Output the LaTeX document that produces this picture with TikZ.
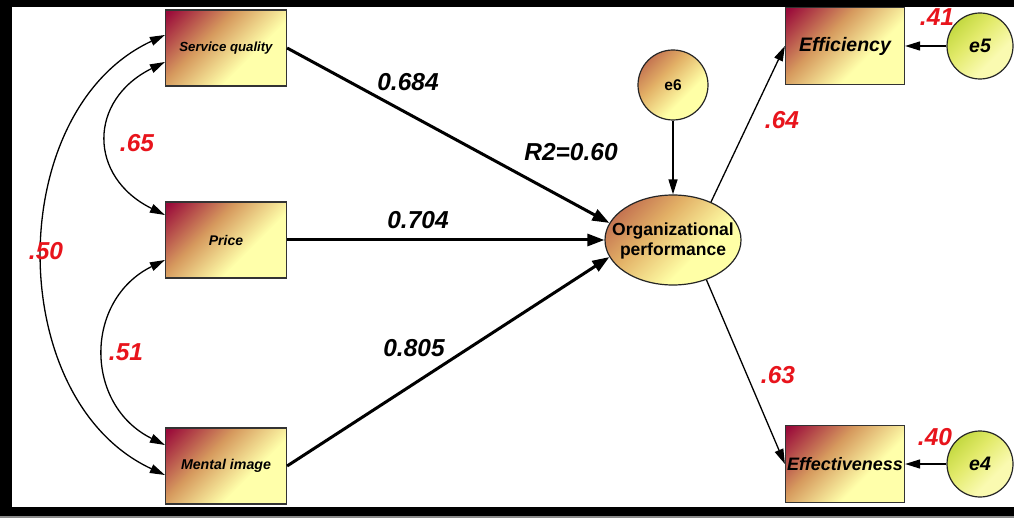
\documentclass[tikz,border=0pt]{standalone}
\usepackage{fontspec}
\setmainfont{Liberation Sans}
\usetikzlibrary{arrows.meta,shapes.geometric}
\definecolor{bxA}{HTML}{9A0A3A}
\definecolor{bxB}{HTML}{D69A5E}
\definecolor{bxC}{HTML}{FFFFAA}
\definecolor{ciA}{HTML}{B85A48}
\definecolor{ciB}{HTML}{E2B066}
\definecolor{ciC}{HTML}{FFFFA6}
\definecolor{grA}{HTML}{BFD63A}
\definecolor{grB}{HTML}{E2EA6A}
\definecolor{grC}{HTML}{FAFAB0}
\definecolor{numred}{HTML}{E8141C}
\pgfdeclarehorizontalshading{boxsh}{100bp}{color(0bp)=(bxA); color(16bp)=(bxA); color(40bp)=(bxB); color(62bp)=(bxC); color(100bp)=(bxC)}
\pgfdeclarehorizontalshading{circsh}{100bp}{color(0bp)=(ciA); color(18bp)=(ciA); color(40bp)=(ciB); color(62bp)=(ciC); color(100bp)=(ciC)}
\pgfdeclarehorizontalshading{greensh}{100bp}{color(0bp)=(grA); color(22bp)=(grA); color(42bp)=(grB); color(64bp)=(grC); color(100bp)=(grC)}
\tikzset{
  obsbox/.style={draw=black!80, line width=1.2pt, shading=boxsh, shading angle=-45, minimum width=121pt, minimum height=76pt, inner sep=0pt, font=\bfseries\itshape},
  latent/.style={draw=black!85, line width=1.2pt, shading=circsh, shading angle=-45, ellipse, minimum width=136pt, minimum height=90pt, inner sep=0pt},
  latenttext/.style={inner sep=0pt, align=center, font=\fontsize{17.5pt}{20pt}\selectfont\bfseries},
  errc/.style={draw=black!85, line width=1.2pt, circle, minimum size=#1, inner sep=0pt},
  errbrown/.style={errc=70pt, shading=circsh, shading angle=-45, font=\fontsize{15.5pt}{17pt}\selectfont\bfseries},
  errgreen/.style={errc=66pt, shading=greensh, shading angle=-45, font=\fontsize{19.5pt}{21pt}\selectfont\bfseries\itshape},
  thickarr/.style={line width=3pt, -{Triangle[length=17pt,width=12pt]}},
  thinarr/.style={line width=1.3pt, -{Triangle[length=15pt,width=9pt]}},
  corr/.style={line width=1.3pt, {Triangle[length=15pt,width=9pt]}-{Triangle[length=15pt,width=9pt]}},
  coef/.style={font=\fontsize{24.5pt}{26pt}\selectfont\bfseries\itshape, text=black, inner sep=0pt},
  rcoef/.style={coef, text=numred}
}
\begin{document}
\begin{tikzpicture}[x=1pt,y=-1pt]
\useasboundingbox (0,0) rectangle (1014,518);
\fill[black] (0,0) rectangle (1014,518);
\fill[black!45] (0,516) rectangle (1014,518);
\fill[white] (12,7) rectangle (1014,507);

% observed variables
\node[obsbox, font=\fontsize{13.2pt}{15pt}\selectfont\bfseries\itshape] (sq) at (226,48) {Service quality};
\node[obsbox, font=\fontsize{14pt}{16pt}\selectfont\bfseries\itshape] (pr) at (226,240) {Price};
\node[obsbox, font=\fontsize{14.2pt}{16pt}\selectfont\bfseries\itshape] (mi) at (226,466) {Mental image};
\node[obsbox, minimum width=119pt, minimum height=77pt, font=\fontsize{19.5pt}{21pt}\selectfont\bfseries\itshape] (eff) at (845,46) {Efficiency};
\node[obsbox, minimum width=119pt, minimum height=77pt, font=\fontsize{18pt}{20pt}\selectfont\bfseries\itshape] (efv) at (845,464) {Effectiveness};

% latent and errors
\node[latent] (op) at (673,240) {};
\node[latenttext] (optext) at ([yshift=-1pt]op.center) {Organizational\\performance};
\node[errbrown] (e6) at (673,85) {e6};
\node[errgreen] (e5) at (980,46) {e5};
\node[errgreen] (e4) at (980,464) {e4};

% paths
\draw[thickarr] (sq.east) -- (op.165);
\draw[thickarr] (pr.east) -- (op.west);
\draw[thickarr] (mi.east) -- (op.195);
\draw[thinarr] (e6.south) -- (op.north);
\draw[thinarr] (op.45) -- (eff.west);
\draw[thinarr] (op.-50) -- (efv.west);
\draw[thinarr] (e5.west) -- (eff.east);
\draw[thinarr] (e4.west) -- (efv.east);

% correlations
\coordinate (sqa) at ([yshift=13pt]sq.west);
\coordinate (sqb) at ([yshift=-14pt]sq.west);
\coordinate (pra) at ([yshift=25pt]pr.west);
\coordinate (prb) at ([yshift=-20pt]pr.west);
\coordinate (mia) at ([yshift=21pt]mi.west);
\coordinate (mib) at ([yshift=-9pt]mi.west);
\draw[corr] (sqb) .. controls +(-77,38) and +(-77,-38) .. (pra);
\draw[corr] (prb) .. controls +(-81,40) and +(-81,-40) .. (mia);
\draw[corr] (sqa) .. controls +(-162,75) and +(-162,-75) .. (mib);

% coefficients
\node[coef] (c1) at (408,82) {0.684};
\node[coef] (c2) at (418,220) {0.704};
\node[coef] (c3) at (414,348) {0.805};
\node[coef] (r2) at (571,152) {R2=0.60};
\node[rcoef] (c4) at (137,143) {.65};
\node[rcoef] (c5) at (126,352) {.51};
\node[rcoef] (c6) at (46,251) {.50};
\node[rcoef] (c7) at (782,120) {.64};
\node[rcoef] (c8) at (778,375) {.63};
\node[rcoef] (c9) at (937,17) {.41};
\node[rcoef] (c10) at (935,437) {.40};
\end{tikzpicture}
\end{document}
